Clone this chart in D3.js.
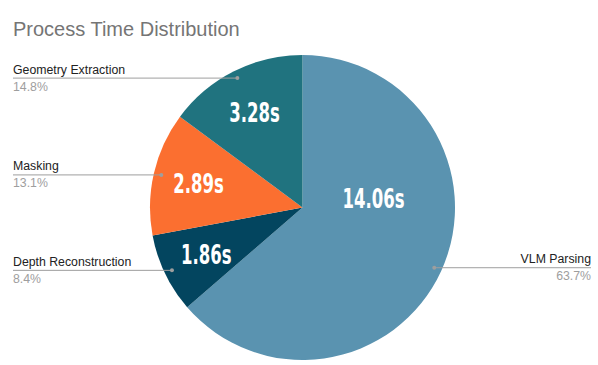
<!DOCTYPE html>
<html><head><meta charset="utf-8">
<script src="https://cdn.jsdelivr.net/npm/d3@7"></script>
<style>
body{margin:0;background:#fff;}
svg{display:block;}
</style></head>
<body>
<svg id="chart" width="598" height="365"></svg>
<script>
const categories = ["VLM Parsing", "Depth Reconstruction", "Masking", "Geometry Extraction"];
const seconds = [14.06, 1.86, 2.89, 3.28];
const percentLabels = ["63.7%", "8.4%", "13.1%", "14.8%"];
const colors = ["#5a93b0", "#03455f", "#fb6f30", "#20737f"];

const W = 598, H = 365;
const cx = 302.5, cy = 207.5, R = 152.5;
const svg = d3.select("#chart");

svg.append("text").attr("x", 13).attr("y", 36)
  .attr("font-family", "Liberation Sans, Arial, sans-serif")
  .attr("font-size", 20).attr("fill", "#757575")
  .text("Process Time Distribution");

const data = categories.map((c, i) => ({name: c, value: seconds[i], pct: percentLabels[i], color: colors[i]}));
const pie = d3.pie().value(d => d.value).sort(null);
const arcs = pie(data);
const arc = d3.arc().innerRadius(0).outerRadius(R);

const g = svg.append("g").attr("transform", `translate(${cx},${cy})`);
g.selectAll("path.slice").data(arcs).join("path")
  .attr("class", "slice")
  .attr("d", arc)
  .attr("fill", d => d.data.color);

function labelPos(d) {
  const span = d.endAngle - d.startAngle;
  let a, r;
  if (span > Math.PI) { a = d.startAngle + span * 0.36; r = R * 0.47; }
  else { a = (d.startAngle + d.endAngle) / 2; r = R * 0.70; }
  return [Math.sin(a) * r, -Math.cos(a) * r];
}

g.selectAll("text.val").data(arcs).join("text")
  .attr("class", "val")
  .attr("transform", d => { const p = labelPos(d); return `translate(${p[0]},${p[1]}) scale(0.68,1)`; })
  .attr("text-anchor", "middle")
  .attr("dy", "0.36em")
  .attr("font-family", "DejaVu Sans Condensed, Liberation Sans, sans-serif")
  .attr("font-weight", "bold")
  .attr("font-size", 27)
  .attr("fill", "#fff")
  .text(d => d.data.value.toFixed(2) + "s");

// leader lines
const dotR = R * 0.95;
arcs.forEach(d => {
  const a = (d.startAngle + d.endAngle) / 2;
  const dx = cx + Math.sin(a) * dotR, dy = cy - Math.cos(a) * dotR;
  const right = Math.sin(a) > 0;
  const xEnd = right ? 591 : 13;
  svg.append("line").attr("x1", dx).attr("y1", dy).attr("x2", xEnd).attr("y2", dy)
    .attr("stroke", "#9e9e9e").attr("stroke-width", 1);
  svg.append("circle").attr("cx", dx).attr("cy", dy).attr("r", 2).attr("fill", "#9e9e9e");
  svg.append("text").attr("x", xEnd).attr("y", dy - 4.5)
    .attr("text-anchor", right ? "end" : "start")
    .attr("font-family", "Liberation Sans, Arial, sans-serif")
    .attr("font-size", 12.3).attr("fill", "#222")
    .text(d.data.name);
  svg.append("text").attr("x", xEnd).attr("y", dy + 12.5)
    .attr("text-anchor", right ? "end" : "start")
    .attr("font-family", "Liberation Sans, Arial, sans-serif")
    .attr("font-size", 12.3).attr("fill", "#9e9e9e")
    .text(d.data.pct);
});
</script>
</body></html>
